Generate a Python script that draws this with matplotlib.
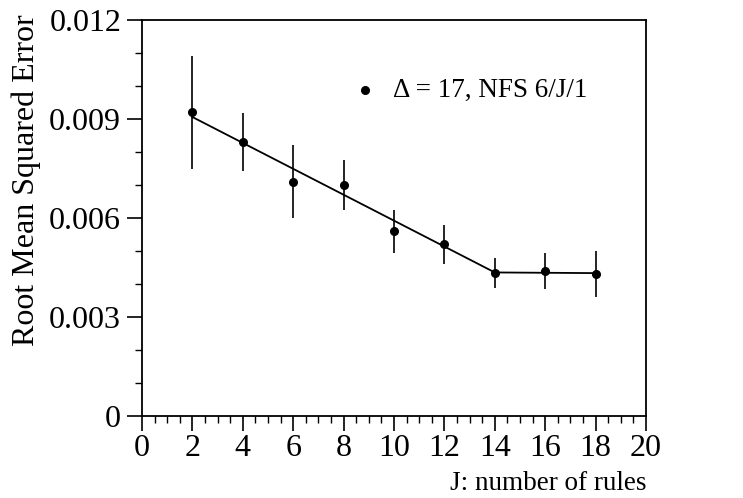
import numpy as np
import matplotlib.pyplot as plt
from matplotlib.ticker import MultipleLocator, FixedFormatter, FixedLocator

# Data
rules = [2, 4, 6, 8, 10, 12, 14, 16, 18]
rmse = [0.0092, 0.0083, 0.0071, 0.0070, 0.0056, 0.0052, 0.00434, 0.00440, 0.00431]
rmse_err = [0.0017, 0.00088, 0.0011, 0.00077, 0.00065, 0.0006, 0.00045, 0.00055, 0.0007]

# piecewise fit line
fit_x = [2, 14, 18]
fit_y = [0.00906, 0.00435, 0.00433]

y_ticks = [0, 0.003, 0.006, 0.009, 0.012]
y_labels = ["0", "0.003", "0.006", "0.009", "0.012"]

plt.rcParams["font.family"] = ["Liberation Serif", "DejaVu Serif"]
plt.rcParams["font.size"] = 16

fig = plt.figure(figsize=(7.43, 4.98), dpi=100)
ax = fig.add_axes([142 / 743, 1 - 416 / 498, (646 - 142) / 743, (416 - 20) / 498])

ax.plot(fit_x, fit_y, color="black", linewidth=1.3)
ax.errorbar(rules, rmse, yerr=rmse_err, fmt="o", color="black", markersize=5.5,
            elinewidth=1.2, capsize=0)

# legend entry drawn by hand like the original
ax.plot([8.85], [0.00988], "o", color="black", markersize=5.5)
ax.text(9.95, 0.00988, "\u0394 = 17, NFS 6/J/1", va="center", ha="left", fontsize=19.5)

ax.set_xlim(0, 20)
ax.set_ylim(0, 0.012)
ax.xaxis.set_major_locator(MultipleLocator(2))
ax.xaxis.set_minor_locator(MultipleLocator(0.5))
ax.yaxis.set_major_locator(FixedLocator(y_ticks))
ax.yaxis.set_major_formatter(FixedFormatter(y_labels))
ax.yaxis.set_minor_locator(MultipleLocator(0.001))
ax.tick_params(which="major", direction="out", length=11, width=1.2, labelsize=23)
ax.tick_params(which="minor", direction="out", length=5, width=1.0)
ax.tick_params(axis="x", pad=2)
ax.tick_params(axis="y", pad=4)
for s in ax.spines.values():
    s.set_linewidth(1.3)

ax.set_ylabel("Root Mean Squared Error", fontsize=23)
ax.yaxis.set_label_coords(-0.2, 0.596)
ax.set_xlabel("J: number of rules", fontsize=19.5)
ax.xaxis.set_label_coords(1.0, -0.138)
ax.xaxis.label.set_horizontalalignment("right")

fig.savefig("out.png", dpi=100)
